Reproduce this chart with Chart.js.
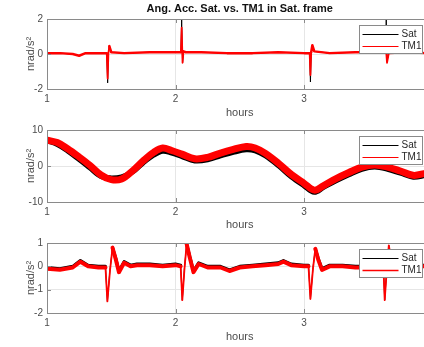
<!DOCTYPE html>
<html>
<head>
<meta charset="utf-8">
<script src="https://cdn.jsdelivr.net/npm/chart.js@4.4.0/dist/chart.umd.min.js"></script>
<style>
  html, body { margin: 0; padding: 0; background: #fff; overflow: hidden; }
  #wrap { position: relative; width: 424px; height: 347px; overflow: hidden; }
  #wrap canvas { position: absolute; left: 0; top: 0; }
</style>
</head>
<body>
<div id="wrap">
  <canvas id="acc-top" width="476" height="347"></canvas>
  <canvas id="acc-mid" width="476" height="347"></canvas>
  <canvas id="acc-bot" width="476" height="347"></canvas>
</div>
<script>
// tick labels
const xTicks = [1, 2, 3, 4];
const yTicksTop = [-2, 0, 2];
const yTicksMid = [-10, 0, 10];
const yTicksBot = [-2, -1, 0, 1];

// top panel (hours, nrad/s^2)
const hoursTop = [1.00, 1.10, 1.20, 1.25, 1.30, 1.40, 1.465, 1.472, 1.478, 1.485, 1.50, 1.60, 1.80, 2.00,
  2.042, 2.048, 2.055, 2.062, 2.08, 2.20, 2.40, 2.60, 2.80, 3.00, 3.044, 3.050, 3.056, 3.065, 3.08,
  3.20, 3.40, 3.60, 3.635, 3.640, 3.646, 3.66, 3.80, 3.95, 4.00];
const satTop = [0.05, 0.05, 0.0, -0.1, 0.05, 0.05, 0.05, -1.65, 0.05, 0.45, 0.1, 0.05, 0.1, 0.1,
  0.1, 1.95, -0.5, 0.15, 0.1, 0.1, 0.05, 0.05, 0.1, 0.05, 0.05, -1.6, 0.1, 0.5, 0.15,
  0.05, 0.1, 0.1, 0.1, 1.95, -0.4, 0.05, 0.1, 0.05, 0.05];
const tm1Top = [0.05, 0.05, 0.0, -0.1, 0.05, 0.05, 0.05, -1.4, 0.05, 0.45, 0.1, 0.05, 0.1, 0.1,
  0.1, 1.5, -0.5, 0.15, 0.1, 0.1, 0.05, 0.05, 0.1, 0.05, 0.05, -1.2, 0.1, 0.5, 0.15,
  0.05, 0.1, 0.1, 0.1, 0.1, -0.5, 0.05, 0.1, 0.05, 0.05];

// middle panel
const hoursMid = [1.00, 1.08, 1.16, 1.25, 1.33, 1.42, 1.50, 1.58, 1.67, 1.75, 1.83, 1.90, 1.97, 2.05,
  2.15, 2.25, 2.35, 2.45, 2.55, 2.62, 2.70, 2.80, 2.90, 3.00, 3.08, 3.15, 3.25, 3.35, 3.45, 3.55,
  3.65, 3.75, 3.85, 3.95, 4.00];
const satMid = [7.0, 6.0, 4.2, 1.8, -0.4, -2.9, -3.3, -3.0, -1.6, 0.9, 3.0, 4.1, 3.6, 2.6,
  1.4, 1.7, 2.8, 3.8, 4.5, 4.2, 2.8, 0.1, -3.0, -5.5, -7.3, -6.0, -4.1, -2.4, -0.9, -0.3,
  -0.9, -2.0, -3.1, -2.6, -2.4];
const tm1Mid = [7.2, 6.5, 4.8, 2.5, 0.3, -2.5, -3.8, -3.6, -1.2, 1.5, 3.8, 5.0, 4.3, 3.3,
  2.0, 2.4, 3.6, 4.6, 5.4, 5.0, 3.5, 0.8, -2.3, -4.8, -6.7, -5.5, -3.5, -1.8, -0.3, 0.3,
  -0.3, -1.4, -2.6, -2.0, -1.8];

// bottom panel
const hoursBot = [1.00, 1.10, 1.20, 1.26, 1.32, 1.40, 1.455, 1.47, 1.49, 1.51, 1.535, 1.56,
  1.60, 1.65, 1.70, 1.80, 1.90, 2.00, 2.04, 2.053, 2.07, 2.087, 2.11, 2.14,
  2.18, 2.25, 2.35, 2.42, 2.50, 2.60, 2.70, 2.80, 2.84, 2.90, 3.00, 3.035,
  3.05, 3.07, 3.088, 3.11, 3.14, 3.20, 3.30, 3.40, 3.50, 3.60, 3.618, 3.628,
  3.645, 3.66, 3.68, 3.72, 3.80, 3.90, 4.00];
const satBot = [-0.05, -0.1, 0.0, 0.25, 0.05, 0.0, 0.0, -1.5, -0.15, 0.8, 0.35, -0.2,
  0.2, 0.05, 0.1, 0.1, 0.05, 0.1, 0.05, -1.45, -0.05, 0.95, 0.45, -0.2,
  0.15, 0.0, 0.0, -0.15, 0.0, 0.05, 0.1, 0.15, 0.25, 0.1, 0.05, 0.05,
  -1.4, -0.05, 0.75, 0.35, -0.1, 0.05, 0.05, 0.0, 0.0, 0.0, 0.0, -1.45,
  -0.05, 0.9, 0.35, -0.15, 0.0, 0.05, 0.05];
const tm1Bot = [-0.1, -0.15, -0.05, 0.2, 0.0, -0.05, -0.05, -1.5, -0.2, 0.8, 0.3, -0.25,
  0.15, 0.0, 0.05, 0.05, 0.0, 0.05, 0.0, -1.45, -0.1, 0.95, 0.4, -0.25,
  0.1, -0.05, -0.05, -0.2, -0.05, 0.0, 0.05, 0.1, 0.2, 0.05, 0.0, 0.0,
  -1.4, -0.1, 0.75, 0.3, -0.15, 0.0, 0.0, -0.05, -0.05, -0.05, -0.05, -1.45,
  -0.1, 0.9, 0.3, -0.2, -0.05, 0.0, 0.0];

const axisColor = '#8a8a8a';
const gridColor = '#e6e6e6';
const textColor = '#4d4d4d';
const fontFamily = "'Liberation Sans', Arial, sans-serif";
Chart.defaults.font.family = fontFamily;

// MATLAB-like box: top/right edges, inward ticks, title and legend
const boxPlugin = {
  id: 'matlabBox',
  afterDraw(chart, args, pluginOpts) {
    const { ctx, chartArea: a, scales } = chart;
    ctx.save();
    ctx.strokeStyle = axisColor;
    ctx.lineWidth = 1;
    ctx.beginPath();
    ctx.moveTo(a.left, a.top + 0.5);
    ctx.lineTo(a.right, a.top + 0.5);
    ctx.moveTo(a.right - 0.5, a.top);
    ctx.lineTo(a.right - 0.5, a.bottom);
    scales.x.ticks.forEach((t) => {
      const px = Math.round(scales.x.getPixelForValue(t.value)) + 0.5;
      ctx.moveTo(px, a.bottom);
      ctx.lineTo(px, a.bottom - 4);
      ctx.moveTo(px, a.top);
      ctx.lineTo(px, a.top + 4);
    });
    scales.y.ticks.forEach((t) => {
      const py = Math.round(scales.y.getPixelForValue(t.value)) + 0.5;
      ctx.moveTo(a.left, py);
      ctx.lineTo(a.left + 4, py);
    });
    ctx.stroke();

    if (pluginOpts.title) {
      ctx.fillStyle = '#111';
      ctx.font = `bold 11px ${fontFamily}`;
      ctx.textAlign = 'center';
      ctx.textBaseline = 'middle';
      ctx.fillText(pluginOpts.title, (a.left + a.right) / 2, a.top - 10.5);
    }

    // legend
    const lx = Math.round(a.right - 73.5) + 0.5;
    const ly = Math.round(a.top + 6) + 0.5;
    ctx.fillStyle = '#fff';
    ctx.fillRect(lx, ly, 63, 28);
    ctx.strokeStyle = axisColor;
    ctx.lineWidth = 1;
    ctx.strokeRect(lx, ly, 63, 28);
    ctx.font = `10px ${fontFamily}`;
    ctx.textAlign = 'left';
    ctx.textBaseline = 'middle';
    chart.data.datasets.forEach((ds, i) => {
      const y = Math.round(ly + 8 + i * 12.5) + 0.5;
      ctx.strokeStyle = ds.borderColor;
      ctx.lineWidth = ds.legendWidth;
      ctx.beginPath();
      ctx.moveTo(lx + 3, y);
      ctx.lineTo(lx + 39, y);
      ctx.stroke();
      ctx.fillStyle = '#262626';
      ctx.fillText(ds.label, lx + 42, y);
    });
    ctx.restore();
  }
};

function toPoints(hours, values) {
  return hours.map((h, i) => ({ x: h, y: values[i] }));
}

// steep parts of the trace (the spikes) are drawn thin, the noisy band thick
function widthFor(band, thin) {
  return (c) => (Math.abs(c.p1.y - c.p0.y) > 3 * Math.abs(c.p1.x - c.p0.x) + 4 ? thin : band);
}

function makePanel(id, opts) {
  const ctx = document.getElementById(id).getContext('2d');
  return new Chart(ctx, {
    type: 'line',
    data: {
      datasets: [
        {
          label: 'Sat',
          data: toPoints(opts.hours, opts.sat),
          borderColor: '#000000',
          borderWidth: opts.satWidth,
          segment: { borderWidth: widthFor(opts.satWidth, 1) },
          legendWidth: 1,
          order: 1,
        },
        {
          label: 'TM1',
          data: toPoints(opts.hours, opts.tm1),
          borderColor: '#ff0000',
          borderWidth: opts.tm1Width,
          segment: { borderWidth: widthFor(opts.tm1Width, 1.8) },
          legendWidth: opts.legendRed,
          order: 0,
        },
      ],
    },
    options: {
      responsive: false,
      animation: false,
      devicePixelRatio: 1,
      events: [],
      layout: { padding: { top: opts.padTop, bottom: opts.padBottom, left: 0, right: 43.5 } },
      elements: {
        point: { radius: 0 },
        line: { tension: opts.tension, borderJoinStyle: 'round', borderCapStyle: 'round' },
      },
      datasets: { line: { clip: 0 } },
      plugins: {
        legend: { display: false },
        tooltip: { enabled: false },
        matlabBox: { title: opts.title },
      },
      scales: {
        x: {
          type: 'linear',
          min: 1,
          max: 4,
          afterBuildTicks: (s) => { s.ticks = xTicks.map((v) => ({ value: v })); },
          afterFit: (s) => { s.height = opts.xHeight; },
          grid: { color: gridColor, drawTicks: false },
          border: { color: axisColor, z: 1 },
          ticks: { padding: 4, color: textColor, font: { size: 10 }, maxRotation: 0, callback: (v) => String(v) },
          title: { display: true, text: 'hours', color: textColor, font: { size: 11 }, padding: 0 },
        },
        y: {
          min: opts.yTicks[0],
          max: opts.yTicks[opts.yTicks.length - 1],
          afterBuildTicks: (s) => { s.ticks = opts.yTicks.map((v) => ({ value: v })); },
          afterFit: (s) => { s.width = 47; },
          grid: { color: gridColor, drawTicks: false },
          border: { color: axisColor, z: 1 },
          ticks: { padding: 4, color: textColor, font: { size: 10 }, callback: (v) => String(v) },
          title: { display: true, text: 'nrad/s²', color: textColor, font: { size: 11 }, padding: { top: 24, bottom: 0 } },
        },
      },
    },
    plugins: [boxPlugin],
  });
}

makePanel('acc-top', {
  hours: hoursTop, sat: satTop, tm1: tm1Top, yTicks: yTicksTop,
  title: 'Ang. Acc. Sat. vs. TM1 in Sat. frame',
  padTop: 19, padBottom: 227, xHeight: 31,
  satWidth: 1, tm1Width: 2.5, legendRed: 1, tension: 0,
});

makePanel('acc-mid', {
  hours: hoursMid, sat: satMid, tm1: tm1Mid, yTicks: yTicksMid,
  padTop: 130, padBottom: 115, xHeight: 30,
  satWidth: 5, tm1Width: 7, legendRed: 1, tension: 0.35,
});

makePanel('acc-bot', {
  hours: hoursBot, sat: satBot, tm1: tm1Bot, yTicks: yTicksBot,
  padTop: 243, padBottom: 3, xHeight: 31,
  satWidth: 3, tm1Width: 4, legendRed: 1.5, tension: 0,
});
</script>
</body>
</html>
